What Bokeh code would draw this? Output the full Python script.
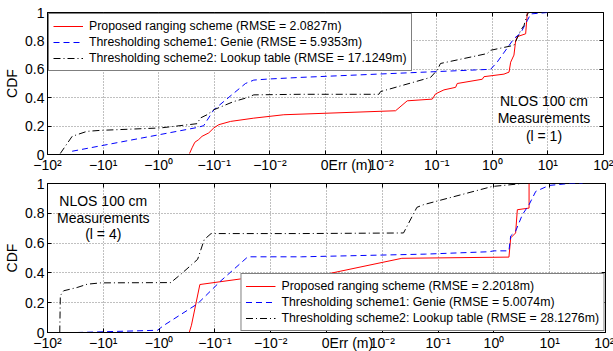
import numpy as np
from bokeh.plotting import figure
from bokeh.layouts import column
from bokeh.models import (Range1d, FixedTicker, Label, Legend, LegendItem, LinearAxis,
                          CustomLabelingPolicy)
from bokeh.embed import file_html
from bokeh.resources import INLINE

FONT = "Liberation Sans"

# ---------------- data ----------------
x_tick_values = [-100, -10, -1, -0.1, -0.01, 0, 0.01, 0.1, 1, 10, 100]
x_tick_labels = ["−10²", "−10¹", "−10⁰", "−10⁻¹", "−10⁻²", "0", "10⁻²", "10⁻¹", "10⁰", "10¹", "10²"]
y_tick_values = [0, 0.2, 0.4, 0.6, 0.8, 1]
y_tick_labels = ["0", "0.2", "0.4", "0.6", "0.8", "1"]
x_axis_title = "Err (m)"

series_names = ["Proposed ranging scheme", "Thresholding scheme1: Genie", "Thresholding scheme2: Lookup table"]
rmse_l1 = ["2.0827", "5.9353", "17.1249"]
rmse_l4 = ["2.2018", "5.0074", "28.1276"]

# l = 1 (top)
l1_prop_err = [-0.279, -0.251, -0.224, -0.191, -0.166, -0.126, -0.102, -0.083, -0.051, -0.0195, -0.0075,
               0.0182, 0.0295, 0.0832, 0.0955, 0.135, 0.219, 0.234, 0.661, 0.708, 1.62, 2.0, 2.14, 2.45,
               2.63, 2.82, 3.98, 4.27]
l1_prop_cdf = [0.007, 0.047, 0.086, 0.105, 0.128, 0.152, 0.187, 0.21, 0.233, 0.256, 0.28,
               0.308, 0.378, 0.39, 0.427, 0.455, 0.473, 0.50, 0.53, 0.548, 0.566, 0.58, 0.65, 0.70,
               0.80, 0.83, 0.85, 1.0]
l1_genie_err = [-36.0, -0.204, -0.155, -0.102, -0.0275, -0.0195, -0.0112, -0.0045, 0.0891, 0.933, 1.23,
                2.45, 3.24, 4.27, 4.90, 9.77]
l1_genie_cdf = [0.023, 0.19, 0.203, 0.315, 0.50, 0.524, 0.531, 0.543, 0.583, 0.60, 0.652,
                0.816, 0.855, 0.944, 0.99, 1.0]
l1_lut_err = [-58.9, -47.9, -36.0, -19.5, -11.2, -0.933, -0.204, -0.178, -0.135, -0.102, -0.0447, -0.0257,
              -0.0195, -0.0045, 0.0096, 0.0099, 0.0776, 0.102, 0.117, 0.813, 0.933, 2.45, 3.24, 3.72, 4.27, 4.57]
l1_lut_cdf = [0.007, 0.058, 0.128, 0.163, 0.17, 0.187, 0.217, 0.257, 0.28, 0.315, 0.373, 0.40,
              0.42, 0.424, 0.424, 0.443, 0.543, 0.594, 0.641, 0.711, 0.734, 0.769, 0.874, 0.909, 0.99, 1.0]

# l = 4 (bottom)
l4_prop_err = [-0.288, -0.263, -0.186, -0.0339, -0.0045, -0.0015, 0.0224, 1.86, 2.0, 2.45, 2.63, 4.27, 4.27]
l4_prop_cdf = [0.0, 0.049, 0.322, 0.36, 0.375, 0.38, 0.498, 0.506, 0.635, 0.668, 0.824, 0.835, 1.0]
l4_genie_err = [-29.5, -1.07, -0.813, -0.204, -0.0776, -0.0257, -0.0045, 0.0589, 0.813, 1.0, 1.86, 2.0,
                2.45, 3.24, 4.27, 5.62, 9.77, 22.4, 38.9]
l4_genie_cdf = [0.0, 0.015, 0.049, 0.193, 0.348, 0.508, 0.508, 0.526, 0.542, 0.548, 0.548, 0.648,
                0.68, 0.791, 0.858, 0.947, 0.987, 1.0, 1.0]
l4_lut_err = [-60.3, -58.9, -51.3, -29.5, -19.5, -11.2, -0.617, -0.407, -0.204, -0.155, -0.117, -0.0045,
              0.024, 0.0417, 0.055, 0.933, 2.45, 3.16]
l4_lut_cdf = [0.0, 0.247, 0.28, 0.302, 0.324, 0.333, 0.335, 0.391, 0.491, 0.624, 0.664, 0.664,
              0.668, 0.84, 0.858, 0.98, 0.995, 1.0]

annot_l1 = ["NLOS 100 cm", "Measurements", "(l = 1)"]
annot_l4 = ["NLOS 100 cm", "Measurements", "(l = 4)"]

# symmetric log axis: linear within |x| < 0.01, one decade per unit outside
LINTHRESH = 0.01


def symlog(v):
    v = np.asarray(v, dtype=float)
    a = np.abs(v)
    out = np.where(a >= LINTHRESH, np.sign(v) * (np.log10(np.maximum(a, 1e-300)) - np.log10(LINTHRESH) + 1),
                   v / LINTHRESH)
    return np.round(out, 9) + 0.0


x_tick_pos = [float(t) for t in symlog(x_tick_values)]
# the zero tick also carries the axis title, as in the original ("0Err (m)");
# em-space padding keeps the "0" centred on its tick
x_overrides = {}
for p_, lab in zip(x_tick_pos, x_tick_labels):
    if p_ == 0:
        lab = "\u2003\u2003\u2003" + lab + x_axis_title
    x_overrides[p_] = lab
y_overrides = {float(v): lab for v, lab in zip(y_tick_values, y_tick_labels)}

COLORS = ["#ff0000", "#0000ff", "#000000"]
DASHES = ["solid", "6 4", "7 3 1 3"]


def tick_only_axis(ticks):
    # mirror axis on top/right: inward ticks only, no labels
    return LinearAxis(ticker=FixedTicker(ticks=ticks), major_label_text_font_size="1px",
                      major_label_policy=CustomLabelingPolicy(code="return new Set()"),
                      major_tick_in=4, major_tick_out=0, minor_tick_line_color=None,
                      major_tick_line_color="black", axis_line_color=None, major_label_standoff=0)


def make_fig(left, frame_h, top_b, bot_b):
    p = figure(frame_width=603 - left, frame_height=frame_h,
               x_range=Range1d(symlog(-100).item(), symlog(100).item()), y_range=Range1d(0, 1),
               output_backend="svg", toolbar_location=None,
               min_border_left=left, min_border_right=10, min_border_top=top_b, min_border_bottom=bot_b,
               background_fill_color="white", border_fill_color="white")
    p.outline_line_color = "black"
    p.outline_line_width = 1
    p.outline_line_alpha = 1
    p.xaxis.ticker = FixedTicker(ticks=x_tick_pos)
    p.xaxis.major_label_overrides = x_overrides
    p.yaxis.ticker = FixedTicker(ticks=y_tick_values)
    p.yaxis.major_label_overrides = y_overrides
    for ax in [p.xaxis[0], p.yaxis[0]]:
        ax.axis_line_color = "black"
        ax.major_tick_in = 4
        ax.major_tick_out = 0
        ax.minor_tick_line_color = None
        ax.major_tick_line_color = "black"
        ax.major_label_text_font = FONT
        ax.major_label_text_font_size = "14px"
        ax.major_label_text_color = "black"
        ax.major_label_standoff = 3
    p.xaxis.major_label_standoff = 2
    p.yaxis.axis_label = "CDF"
    p.yaxis.axis_label_text_font = FONT
    p.yaxis.axis_label_text_font_size = "14px"
    p.yaxis.axis_label_text_font_style = "normal"
    p.yaxis.axis_label_standoff = 2
    p.yaxis.axis_label_text_color = "black"
    p.add_layout(tick_only_axis(x_tick_pos), "above")
    p.add_layout(tick_only_axis(y_tick_values), "right")
    for g in [p.xgrid[0], p.ygrid[0]]:
        g.grid_line_color = "#808080"
        g.grid_line_dash = "1 2"
        g.grid_line_width = 1
    p.xgrid.ticker = FixedTicker(ticks=x_tick_pos)
    p.ygrid.ticker = FixedTicker(ticks=y_tick_values)
    return p


def add_series(p, errs, cdfs, rmses, loc):
    items = []
    for i, (e, c) in enumerate(zip(errs, cdfs)):
        r = p.line(symlog(e), c, line_color=COLORS[i], line_width=1, line_dash=DASHES[i])
        items.append(LegendItem(label=f"{series_names[i]} (RMSE = {rmses[i]}m)", renderers=[r]))
    leg = Legend(items=items, location=loc, border_line_color="black", border_line_width=1,
                 background_fill_color="white", background_fill_alpha=1,
                 label_text_font=FONT, label_text_font_size="12.3px", label_text_color="black",
                 glyph_width=30, glyph_height=16, label_height=16, spacing=0, padding=4, margin=1,
                 label_standoff=6)
    p.add_layout(leg)


def add_annot(p, lines, x_err, y0, dy):
    for k, t in enumerate(lines):
        p.add_layout(Label(x=symlog(x_err).item(), y=y0 - k * dy, text=t, text_align="center",
                           text_baseline="middle", text_font=FONT, text_font_size="14px",
                           text_color="black"))


p1 = make_fig(47, 142, 12, 20)
add_series(p1, [l1_prop_err, l1_genie_err, l1_lut_err], [l1_prop_cdf, l1_genie_cdf, l1_lut_cdf], rmse_l1, "top_left")
add_annot(p1, annot_l1, 8.5, 0.38, 0.125)

p2 = make_fig(45, 149, 8, 20)
add_series(p2, [l4_prop_err, l4_genie_err, l4_lut_err], [l4_prop_cdf, l4_genie_cdf, l4_lut_cdf], rmse_l4, "bottom_right")
add_annot(p2, annot_l4, -10.0, 0.88, 0.11)

layout = column(p1, p2, spacing=0)
open("out.html", "w").write(file_html(layout, INLINE))
